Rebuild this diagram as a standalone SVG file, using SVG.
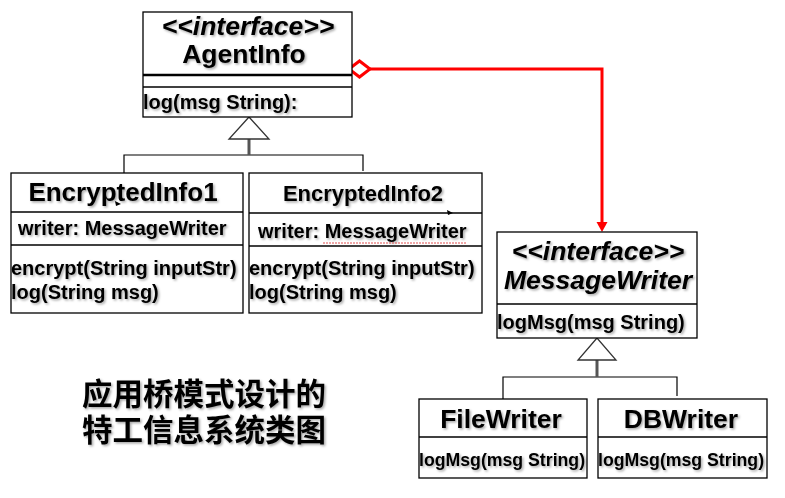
<svg xmlns="http://www.w3.org/2000/svg" width="785" height="498" viewBox="0 0 785 498">
<defs>
<filter id="sh" x="-10%" y="-30%" width="130%" height="170%">
<feDropShadow dx="1.5" dy="1.5" stdDeviation="1" flood-color="#000" flood-opacity="0.35"/>
</filter>
</defs>
<style>
.box{fill:#fff;stroke:#000;stroke-width:1.3}
.sep{stroke:#000;stroke-width:1.3}
.t{font-family:"Liberation Sans",Arial,sans-serif;font-weight:bold;fill:#000;filter:url(#sh)}
.title{font-size:26.5px;text-anchor:middle}
.it{font-style:italic}
.m{font-size:20px}
.s{font-size:20px}
.cn{font-family:"Liberation Sans","Noto Sans CJK SC",sans-serif;font-weight:bold;font-size:30.5px;fill:#000;filter:url(#sh)}
.gen{fill:#fff;stroke:#333;stroke-width:1.3}
.stem{stroke:#555;stroke-width:3}
.line{stroke:#000;stroke-width:1.2;fill:none}
</style>

<g id="connectors">
<polyline class="line" points="124,173 124,155 363,155 363,171"/>
<line class="stem" x1="249" y1="139" x2="249" y2="155"/>
<polygon class="gen" points="249,117 229,139 269,139"/>
<polyline class="line" points="503,399 503,377 677,377 677,396"/>
<line class="stem" x1="597" y1="360" x2="597" y2="377"/>
<polygon class="gen" points="597,338 578,360 616,360"/>
<polyline points="370,69 602,69 602,223" fill="none" stroke="#ff0000" stroke-width="3"/>
<polygon points="596.5,222 607.5,222 602,232" fill="#ff0000"/>
<polygon points="349,69 359.5,61 370,69 359.5,77" fill="#fff" stroke="#ff0000" stroke-width="3"/>
</g>

<g id="AgentInfo">
<rect class="box" x="143" y="12" width="209" height="105"/>
<line x1="143" y1="75" x2="352" y2="75" stroke="#000" stroke-width="2.5"/>
<line class="sep" x1="143" y1="87" x2="352" y2="87"/>
<text class="t title it" x="248" y="35">&lt;&lt;interface&gt;&gt;</text>
<text class="t title" x="244" y="63">AgentInfo</text>
<text class="t s" x="143" y="109">log(msg String):</text>
</g>

<g id="EncryptedInfo1">
<rect class="box" x="11" y="173" width="232" height="140"/>
<line class="sep" x1="11" y1="212" x2="243" y2="212"/>
<line class="sep" x1="11" y1="245" x2="243" y2="245"/>
<text class="t" x="123" y="201" font-size="26" text-anchor="middle">EncryptedInfo1</text>
<polygon points="115,201 121,204 116,206" fill="#000"/>
<text class="t m" x="18" y="235">writer: MessageWriter</text>
<text class="t m" x="11" y="275">encrypt(String inputStr)</text>
<text class="t m" x="11" y="299">log(String msg)</text>
</g>

<g id="EncryptedInfo2">
<rect class="box" x="249" y="173" width="233" height="140"/>
<line class="sep" x1="249" y1="213" x2="482" y2="213"/>
<line class="sep" x1="249" y1="246" x2="482" y2="246"/>
<text class="t" x="363" y="201" font-size="22" text-anchor="middle">EncryptedInfo2</text>
<polygon points="447,210 453,213 448,215" fill="#000"/>
<text class="t m" x="258" y="238">writer: MessageWriter</text>
<line x1="323" y1="243" x2="466" y2="243" stroke="#e05050" stroke-width="1" stroke-dasharray="2,1"/>
<text class="t m" x="249" y="275">encrypt(String inputStr)</text>
<text class="t m" x="249" y="299">log(String msg)</text>
</g>

<g id="MessageWriter">
<rect class="box" x="497" y="232" width="200" height="106"/>
<line class="sep" x1="497" y1="304" x2="697" y2="304"/>
<text class="t title it" x="598" y="260">&lt;&lt;interface&gt;&gt;</text>
<text class="t title it" x="598" y="289">MessageWriter</text>
<text class="t s" x="497" y="329">logMsg(msg String)</text>
</g>

<g id="FileWriter">
<rect class="box" x="419" y="399" width="168" height="79"/>
<line class="sep" x1="419" y1="437" x2="587" y2="437"/>
<text class="t title" x="501" y="428">FileWriter</text>
<text class="t" x="419" y="466" font-size="17.7">logMsg(msg String)</text>
</g>

<g id="DBWriter">
<rect class="box" x="598" y="399" width="169" height="79"/>
<line class="sep" x1="598" y1="437" x2="767" y2="437"/>
<text class="t title" x="681" y="428">DBWriter</text>
<text class="t" x="598" y="466" font-size="17.7">logMsg(msg String)</text>
</g>

<g id="caption">
<text class="cn" x="82" y="405">应用桥模式设计的</text>
<text class="cn" x="82" y="441">特工信息系统类图</text>
</g>
</svg>
